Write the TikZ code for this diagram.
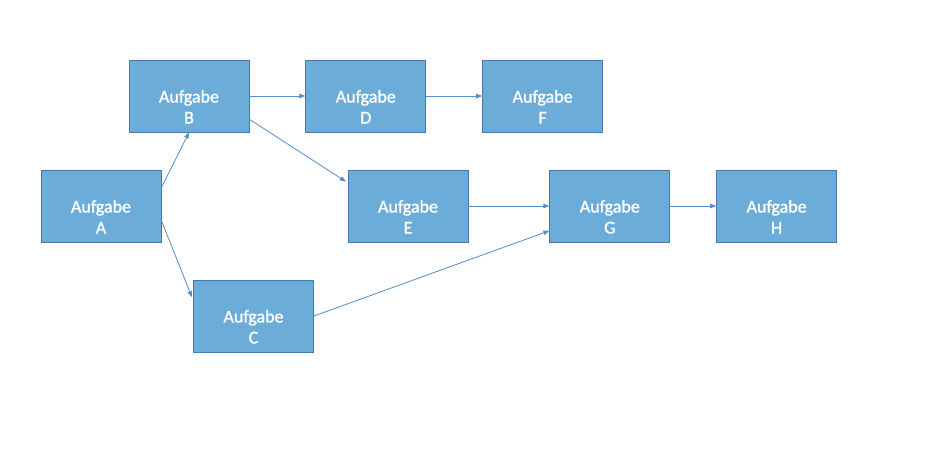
\documentclass[tikz,border=0pt]{standalone}
\usepackage{fontspec}
\setmainfont{Carlito}
\newfontfamily\taskfont[BoldFont=Carlito, BoldFeatures={FakeBold=1.2}]{Carlito}
\usetikzlibrary{positioning,arrows.meta,calc}
\definecolor{boxfill}{RGB}{107,172,216}
\definecolor{boxline}{RGB}{70,122,168}
\definecolor{linkblue}{RGB}{84,141,196}
\tikzstyle{link} = [draw=linkblue, line width=0.8pt, -{Triangle[length=6pt,width=4.5pt]}]
\newcommand{\task}[1]{\rule{0pt}{34pt}Aufgabe\\#1}

\begin{document}
\begin{tikzpicture}[x=1pt, y=-1pt, node distance=56pt, every node/.style={draw=boxline, fill=boxfill, line width=0.8pt, text=white, align=center, minimum width=120pt, minimum height=72pt, inner sep=0pt, font=\taskfont\bfseries\fontsize{18}{21}\selectfont}]
    \useasboundingbox (0,0) rectangle (949,450);

        % Define nodes
        \node (A) at (101,206) {\task{A}};
        \node (B) at (189,96) {\task{B}};
        \node (D) [right=of B] {\task{D}};
        \node (F) [right=of D] {\task{F}};

        \node (E) at (408,206) {\task{E}};
        \node (G) [right=81pt of E] {\task{G}};
        \node (H) [right=46pt of G] {\task{H}};

        \node (C) at (253.5,316) {\task{C}};

        % Draw arrows between the tasks
        \foreach \X/\Y in {B/D, D/F, E/G, G/H} {
            \draw[link] (\X.east) -- (\Y.west);
        }

        \draw[link] ($(A.north east)!0.25!(A.south east)$) -- (B.south);
        \draw[link, shorten >=3pt] ($(A.north east)!0.7!(A.south east)$) -- ($(C.north west)!0.28!(C.south west)$);
        \draw[link, shorten >=2pt] ($(B.north east)!0.82!(B.south east)$) -- ($(E.north west)!0.18!(E.south west)$);
        \draw[link] (C.east) -- ($(G.north west)!0.84!(G.south west)$);

    \end{tikzpicture}
\end{document}
